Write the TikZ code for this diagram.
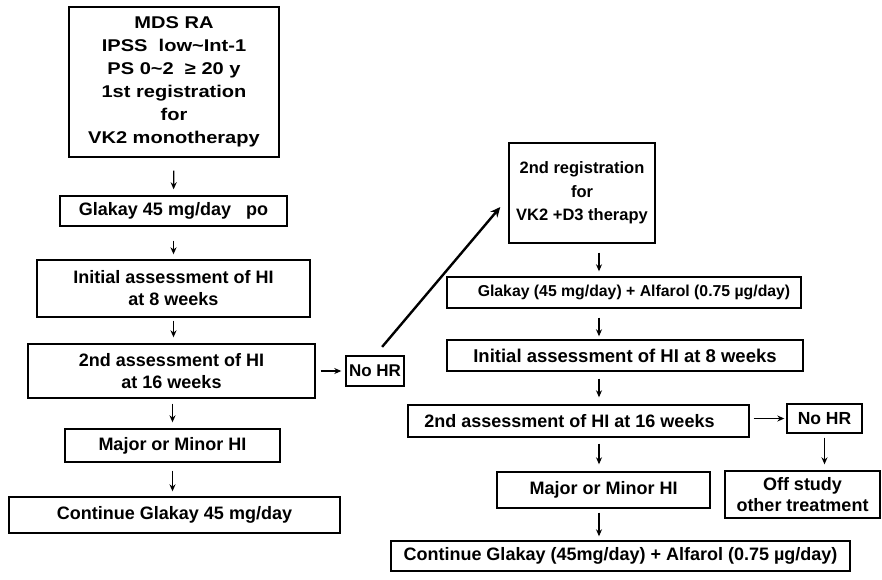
\documentclass[tikz,border=0pt]{standalone}
\usepackage{fontspec}
\setmainfont{Liberation Sans}
\newfontfamily\widefont{Liberation Sans}[FakeStretch=1.18]
\usetikzlibrary{arrows.meta}
\begin{document}
\begin{tikzpicture}[x=1pt,y=-1pt,
  box/.style={draw, line width=1.4pt, inner sep=0pt, align=center,
    font=\bfseries\fontsize{18}{22}\selectfont},
  arr/.style={line width=1.3pt, -{Stealth[length=7pt,width=6pt]}},
  bigarr/.style={line width=2.4pt, -{Stealth[length=10pt,width=9pt]}}]
\useasboundingbox (0,0) rectangle (882,579);
% left column
\node[box, minimum width=210pt, minimum height=150pt,
  font=\widefont\bfseries\fontsize{17}{23}\selectfont] (top) at (174,82)
  {MDS RA\\IPSS\ \ low\textasciitilde Int-1\\PS 0\textasciitilde 2\ \ ≥ 20 y\\1st registration\\for\\VK2 monotherapy};
\node[box, minimum width=227pt, minimum height=30pt] (glak1) at (173.5,211) {Glakay 45 mg/day\ \ \ po};
\node[box, minimum width=273pt, minimum height=57pt] (init1) at (173.5,288.5) {Initial assessment of HI\\at 8 weeks};
\node[box, minimum width=287pt, minimum height=54pt] (ass1) at (171.5,371) {2nd assessment of HI\\at 16 weeks};
\node[box, minimum width=215pt, minimum height=33pt] (maj1) at (172.5,445.5) {Major or Minor HI};
\node[box, minimum width=331pt, minimum height=36pt] (cont1) at (174.5,515) {Continue Glakay 45 mg/day};
\node[box, minimum width=58pt, minimum height=30pt, font=\bfseries\fontsize{17}{21}\selectfont] (nohr1) at (375,371) {No HR};
% right column
\coordinate (colx) at (599,0);
\node[box, minimum width=146pt, minimum height=100pt,
  font=\bfseries\fontsize{16.5}{23.5}\selectfont] (reg) at (582,193)
  {2nd registration\\for\\VK2 +D3 therapy};
\node[box, minimum width=354pt, minimum height=31pt, font=\bfseries\fontsize{15.8}{20}\selectfont] (glak2) at (624,292.5)
  {\hspace*{20pt}Glakay (45 mg/day) + Alfarol (0.75 µg/day)};
\node[box, minimum width=356pt, minimum height=31pt, font=\bfseries\fontsize{18.5}{22}\selectfont] (init2) at (625,355.5) {Initial assessment of HI at 8 weeks};
\node[box, minimum width=341pt, minimum height=32pt, font=\bfseries\fontsize{18}{21}\selectfont] (ass2) at (578.5,421)
  {2nd assessment of HI at 16 weeks\hspace*{18pt}};
\node[box, minimum width=75pt, minimum height=29pt, font=\bfseries\fontsize{17.5}{21}\selectfont] (nohr2) at (824.5,418.5) {No HR};
\node[box, minimum width=213pt, minimum height=36pt] (maj2) at (603.5,490) {Major or Minor HI};
\node[box, minimum width=155pt, minimum height=47pt, font=\bfseries\fontsize{18}{21}\selectfont] (off) at (802.5,494.5)
  {Off study\\other treatment};
\node[box, minimum width=459pt, minimum height=30pt] (cont2) at (620.5,556)
  {Continue Glakay (45mg/day) + Alfarol (0.75 µg/day)};
% left arrows
\draw[arr, shorten <=13pt, shorten >=6pt] (top.south) -- (glak1.north);
\draw[arr, shorten <=14pt, shorten >=5pt] (glak1.south) -- (init1.north);
\draw[arr, shorten <=3pt, shorten >=6pt] (init1.south) -- (ass1.north -| init1.south);
\draw[arr, shorten <=5pt, shorten >=6pt] (ass1.south -| maj1.north) -- (maj1.north);
\draw[arr, shorten <=8pt, shorten >=5pt] (maj1.south) -- (cont1.north -| maj1.south);
\draw[arr, shorten <=5pt, shorten >=4pt] (ass1.east |- nohr1.west) -- (nohr1.west);
\draw[bigarr, shorten <=11pt] (nohr1.north) -- ([xshift=-8pt,yshift=-14pt]reg.west);
% right arrows
\draw[arr, shorten <=9pt, shorten >=5pt] (reg.south -| colx) -- (glak2.north -| colx);
\draw[arr, shorten <=9pt, shorten >=3pt] (glak2.south -| colx) -- (init2.north -| colx);
\draw[arr, shorten <=7pt, shorten >=7pt] (init2.south -| colx) -- (ass2.north -| colx);
\draw[arr, shorten <=6pt, shorten >=7pt] (ass2.south -| colx) -- (maj2.north -| colx);
\draw[arr, shorten <=4pt, shorten >=4pt] (maj2.south -| colx) -- (cont2.north -| colx);
\draw[arr, shorten <=4pt, shorten >=2pt] (ass2.east |- nohr2.west) -- (nohr2.west);
\draw[arr, shorten <=4pt, shorten >=6pt] (nohr2.south) -- (off.north -| nohr2.south);
\end{tikzpicture}
\end{document}
